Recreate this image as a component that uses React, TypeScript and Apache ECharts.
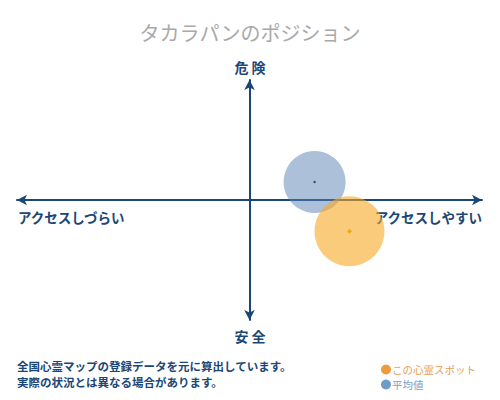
import { useEffect, useRef } from 'react'
import * as echarts from 'echarts'

const seriesNames = ['この心霊スポット', '平均値']
const spotPoint = [43, -26]
const averagePoint = [28, 15]
const spotSize = 70
const averageSize = 62
const axisRange = [-100, 100]
const axisEnds = { top: '危 険', bottom: '安 全', left: 'アクセスしづらい', right: 'アクセスしやすい' }
const notes = ['全国心霊マップの登録データを元に算出しています。', '実際の状況とは異なる場合があります。']

const FONT = '"Noto Sans CJK JP", sans-serif'
const NAVY = '#1b4777'

export default function App() {
  const chartRef = useRef<HTMLDivElement | null>(null)

  useEffect(() => {
    document.body.style.margin = '0'
    if (!chartRef.current) {
      return
    }

    const chart = echarts.init(chartRef.current, null, { renderer: 'svg' })

    const axisCommon = {
      type: 'value',
      min: axisRange[0],
      max: axisRange[1],
      splitLine: { show: false },
      axisTick: { show: false },
      axisLabel: { show: false },
      axisLine: {
        lineStyle: { color: NAVY, width: 2 },
        symbol: ['arrow', 'arrow'],
        symbolSize: [8, 10],
      },
    }

    const labelStyle = { fill: NAVY, font: `bold 13.5px ${FONT}`, textVerticalAlign: 'middle' }

    chart.setOption({
      animation: false,
      title: {
        text: 'タカラパンのポジション',
        left: 'center',
        top: 17,
        textStyle: { color: '#a9a9a9', fontSize: 20, fontWeight: 'normal', fontFamily: FONT },
      },
      grid: { left: 17, right: 18, top: 80, bottom: 80 },
      xAxis: axisCommon,
      yAxis: axisCommon,
      legend: {
        orient: 'vertical',
        left: 376,
        top: 359,
        itemGap: 4,
        itemWidth: 10,
        itemHeight: 10,
        icon: 'circle',
        selectedMode: false,
        textStyle: { fontFamily: FONT, fontSize: 10.5, padding: [0, 0, 0, -4], lineHeight: 11 },
        data: [
          { name: seriesNames[0], itemStyle: { color: '#ef9b3c', opacity: 1 }, textStyle: { color: '#e8a052' } },
          { name: seriesNames[1], itemStyle: { color: '#6f9bc6', opacity: 1 }, textStyle: { color: '#7e9ec2' } },
        ],
      },
      series: [
        {
          name: seriesNames[1],
          type: 'scatter',
          symbolSize: averageSize,
          itemStyle: { color: '#5b82b3', opacity: 0.5 },
          data: [averagePoint],
        },
        {
          name: seriesNames[0],
          type: 'scatter',
          symbolSize: spotSize,
          itemStyle: { color: '#f9a825', opacity: 0.6 },
          data: [spotPoint],
        },
        {
          type: 'scatter',
          symbol: 'circle',
          symbolSize: 2.5,
          itemStyle: { color: '#1b2f4a' },
          data: [averagePoint],
        },
        {
          type: 'scatter',
          symbol: 'diamond',
          symbolSize: 5,
          itemStyle: { color: '#f0a000' },
          data: [spotPoint],
        },
      ],
      graphic: [
        { type: 'text', x: 250, y: 67, style: { ...labelStyle, text: axisEnds.top, textAlign: 'center', font: `bold 14px ${FONT}` } },
        { type: 'text', x: 250, y: 336, style: { ...labelStyle, text: axisEnds.bottom, textAlign: 'center', font: `bold 14px ${FONT}` } },
        { type: 'text', x: 18, y: 217, style: { ...labelStyle, text: axisEnds.left, textAlign: 'left' } },
        { type: 'text', x: 482, y: 217, style: { ...labelStyle, text: axisEnds.right, textAlign: 'right' } },
        { type: 'text', x: 17, y: 366, style: { ...labelStyle, text: notes[0], textAlign: 'left', font: `bold 11.5px ${FONT}` } },
        { type: 'text', x: 17, y: 382, style: { ...labelStyle, text: notes[1], textAlign: 'left', font: `bold 11.5px ${FONT}` } },
      ],
    })

    const resize = () => chart.resize()
    window.addEventListener('resize', resize)
    return () => {
      window.removeEventListener('resize', resize)
      chart.dispose()
    }
  }, [])

  return <div ref={chartRef} style={{ width: 500, height: 400 }} />
}
